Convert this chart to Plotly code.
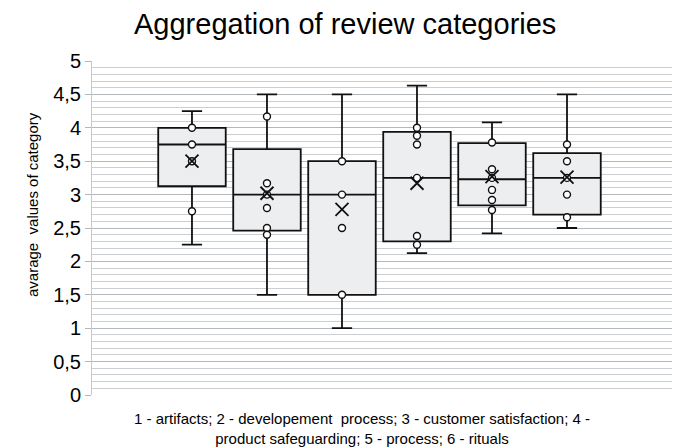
import plotly.graph_objects as go

# ---- data ----
categories = [1, 2, 3, 4, 5, 6]
q1 = [3.125, 2.46, 1.5, 2.30, 2.84, 2.70]
median = [3.75, 3.0, 3.0, 3.25, 3.23, 3.25]
q3 = [4.0, 3.68, 3.5, 3.94, 3.77, 3.62]
lower_whisker = [2.25, 1.5, 1.0, 2.125, 2.42, 2.5]
upper_whisker = [4.25, 4.5, 4.5, 4.63, 4.08, 4.5]
means = [3.5, 3.02, 2.78, 3.17, 3.27, 3.26]

points_1 = [4.0, 3.75, 3.5, 2.75]
points_2 = [4.17, 3.17, 3.0, 2.8, 2.5, 2.4]
points_3 = [3.5, 3.0, 2.5, 1.5]
points_4 = [4.0, 3.88, 3.75, 3.25, 2.38, 2.25]
points_5 = [3.78, 3.38, 3.25, 3.07, 2.92, 2.77]
points_6 = [3.75, 3.5, 3.25, 3.0, 2.66]
inner_points = [points_1, points_2, points_3, points_4, points_5, points_6]

tick_values = [0, 0.5, 1, 1.5, 2, 2.5, 3, 3.5, 4, 4.5, 5]
tick_labels = ["0", "0,5", "1", "1,5", "2", "2,5", "3", "3,5", "4", "4,5", "5"]

title_text = "Aggregation of review categories"
y_title = "avarage  values of category"
x_title = ("1 - artifacts; 2 - developement  process; 3 - customer satisfaction; 4 -"
           "<br>product safeguarding; 5 - process; 6 - rituals")

FONT = "Liberation Sans, Arial, sans-serif"

fig = go.Figure()

fig.add_trace(go.Box(
    x=categories, q1=q1, median=median, q3=q3,
    lowerfence=lower_whisker, upperfence=upper_whisker,
    width=0.9, whiskerwidth=0.3,
    fillcolor="#eceef0",
    line=dict(color="#111111", width=1.8),
    boxpoints=False, showlegend=False, hoverinfo="skip",
))

px, py = [], []
for c, pts in zip(categories, inner_points):
    px += [c] * len(pts)
    py += pts
fig.add_trace(go.Scatter(
    x=px, y=py, mode="markers", showlegend=False,
    marker=dict(symbol="circle", size=7, color="white",
                line=dict(color="#111111", width=1.4)),
))

fig.add_trace(go.Scatter(
    x=categories, y=means, mode="markers", showlegend=False,
    marker=dict(symbol="x-thin-open", size=13, color="#111111",
                line=dict(color="#111111", width=1.8)),
))

fig.update_layout(
    width=675, height=447,
    margin=dict(l=92, r=3, t=61, b=52),
    paper_bgcolor="white", plot_bgcolor="white",
    font=dict(family=FONT, color="#000000"),
    showlegend=False,
    xaxis=dict(range=[-0.333, 7.4], showticklabels=False, showgrid=False,
               zeroline=False, ticks="", showline=False, fixedrange=True),
    yaxis=dict(range=[0, 5], tickvals=tick_values, ticktext=tick_labels,
               tickfont=dict(size=20, family=FONT, color="#000000"),
               showgrid=True, gridcolor="#b3b8bd", gridwidth=1.2,
               minor=dict(dtick=0.1, showgrid=True, gridcolor="#cbcfd3", gridwidth=1),
               ticks="outside", ticklen=6, tickcolor="#b3b8bd",
               showline=True, linecolor="#c5c9cd", linewidth=1,
               zeroline=False),
    annotations=[
        dict(text=title_text, xref="paper", yref="paper", x=(345 - 92) / 580,
             y=1, yshift=37, xanchor="center", yanchor="middle", showarrow=False,
             font=dict(size=29, family=FONT, color="#000000")),
        dict(text=y_title, xref="paper", yref="paper", x=0, xshift=-59,
             y=(395 - 205) / 334, textangle=-90, xanchor="center", yanchor="middle",
             showarrow=False, font=dict(size=15, family=FONT, color="#000000")),
        dict(text=x_title, xref="paper", yref="paper", x=(362 - 92) / 580,
             y=0, yshift=-33, xanchor="center", yanchor="middle", showarrow=False,
             align="center", font=dict(size=15, family=FONT, color="#000000")),
    ],
)

fig.write_html(
    "out.html",
    config={"displayModeBar": False},
    post_script="document.body.style.margin='0';document.body.style.overflow='hidden';",
)
